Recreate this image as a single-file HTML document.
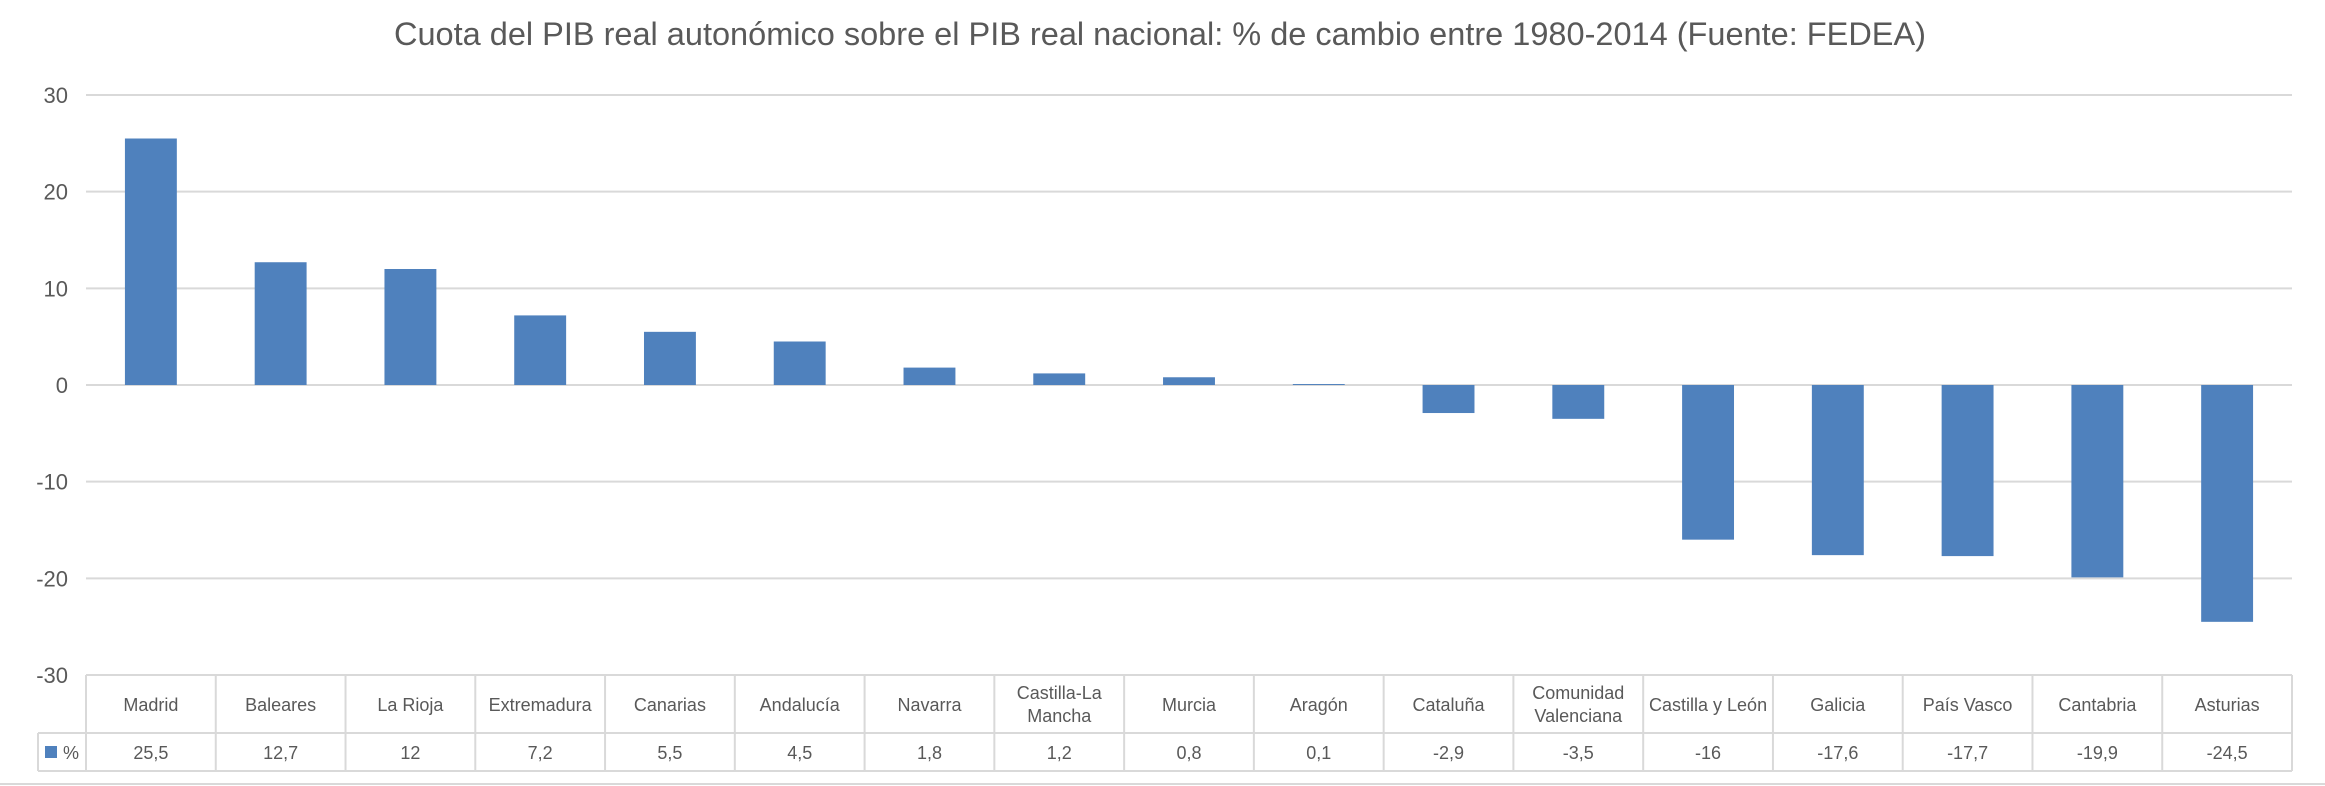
<!DOCTYPE html>
<html><head><meta charset="utf-8"><style>
body{margin:0;background:#fff;}
svg{display:block;font-family:"Liberation Sans",sans-serif;}
</style></head><body>
<svg id="c" width="2325" height="786" viewBox="0 0 2325 786">
<text x="1160" y="45" text-anchor="middle" font-size="32.5" fill="#595959">Cuota del PIB real autonómico sobre el PIB real nacional: % de cambio entre 1980-2014 (Fuente: FEDEA)</text>
<g id="grid"></g><g id="bars"></g><g id="table"></g>
<line x1="0" y1="784" x2="2325" y2="784" stroke="#d9d9d9" stroke-width="2"/>
</svg>
<script>
const categories=["Madrid","Baleares","La Rioja","Extremadura","Canarias","Andalucía","Navarra","Castilla-La|Mancha","Murcia","Aragón","Cataluña","Comunidad|Valenciana","Castilla y León","Galicia","País Vasco","Cantabria","Asturias"];
const values=[25.5,12.7,12,7.2,5.5,4.5,1.8,1.2,0.8,0.1,-2.9,-3.5,-16,-17.6,-17.7,-19.9,-24.5];
const labels=["25,5","12,7","12","7,2","5,5","4,5","1,8","1,2","0,8","0,1","-2,9","-3,5","-16","-17,6","-17,7","-19,9","-24,5"];
const ticks=[30,20,10,0,-10,-20,-30];
const NS="http://www.w3.org/2000/svg";
const X0=86,X1=2292,Y30=95,Ym30=675;
const cw=(X1-X0)/categories.length;
function y(v){return Y30+(30-v)*(Ym30-Y30)/60;}
function x(i){return X0+i*cw;}
function mk(t,a,p){const e=document.createElementNS(NS,t);for(const k in a)e.setAttribute(k,a[k]);p.appendChild(e);return e;}
const g=document.getElementById('grid'),b=document.getElementById('bars'),t=document.getElementById('table');
ticks.forEach(v=>{
 if(v>-30){const l=mk('line',{x1:X0,x2:X1,y1:y(v),y2:y(v),stroke:'#d9d9d9','stroke-width':2},g);
 
 }
 const tx=mk('text',{x:68,y:y(v)+8,'text-anchor':'end','font-size':22,fill:'#595959'},g);tx.textContent=v;
 
 
});
values.forEach((v,i)=>{
 const bw=cw*0.4,cx=x(i)+cw/2;
 const r=mk('rect',{x:cx-bw/2,y:Math.min(y(v),y(0)),width:bw,height:Math.abs(y(v)-y(0)),fill:'#4f81bd'},b);
 
 
});
const T0=675,T1=733,T2=771,L=38,S='#d9d9d9';
function ln(a,b2,c,d){const l=mk('line',{x1:a,y1:b2,x2:c,y2:d,stroke:S,'stroke-width':2},t);
 
 }
ln(X0,T0,X1,T0);ln(L,T1,X1,T1);ln(L,T2,X1,T2);ln(L,T1,L,T2);
for(let i=0;i<=categories.length;i++)ln(x(i),T0,x(i),T2);
categories.forEach((c,i)=>{
 const cx=x(i)+cw/2,parts=c.split('|');
 parts.forEach((p,j)=>{
  const yy=parts.length==1?T0+36:T0+24+j*23;
  const tx=mk('text',{x:cx,y:yy,'text-anchor':'middle','font-size':18,fill:'#595959'},t);tx.textContent=p;
  
  
 });
 const vt=mk('text',{x:cx,y:T1+26,'text-anchor':'middle','font-size':18,fill:'#595959'},t);vt.textContent=labels[i];
 
 
});
const sq=mk('rect',{x:45,y:746,width:12,height:12,fill:'#4f81bd'},t);


const lt=mk('text',{x:63,y:759,'font-size':18,fill:'#595959'},t);lt.textContent='%';


</script>
</body></html>
